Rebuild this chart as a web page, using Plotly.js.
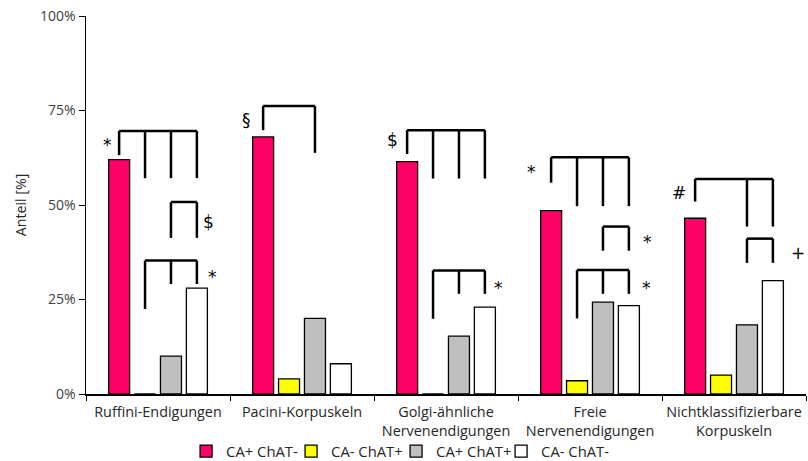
<!DOCTYPE html>
<html><head><meta charset="utf-8">
<script src="https://cdn.plot.ly/plotly-3.0.1.min.js"></script>
<style>html,body{margin:0;padding:0;background:#fff}#chart{width:808px;height:461px}</style>
</head><body><div id="chart"></div>
<script>
const categories = ["Ruffini-Endigungen","Pacini-Korpuskeln","Golgi-ähnliche<br>Nervenendigungen","Freie<br>Nervenendigungen","Nichtklassifizierbare<br>Korpuskeln"];
const seriesNames = ["CA+ ChAT-","CA- ChAT+","CA+ ChAT+","CA- ChAT-"];
const caPlusChatMinus = [62, 68, 61.5, 48.5, 46.5];
const caMinusChatPlus = [0, 4, 0, 3.5, 5];
const caPlusChatPlus = [10, 20, 15.3, 24.3, 18.3];
const caMinusChatMinus = [28, 8, 23, 23.4, 30];
const yTickVals = [0, 25, 50, 75, 100];
const yTickText = ["0%", "25%", "50%", "75%", "100%"];
const yTitle = "Anteil [%]";

// significance brackets: category, top level, legs as [slot, bottom level]
const brackets = [
  {cat:0, top:69.6, legs:[[0,63.2],[1,57.1],[2,57.1],[3,57.1]]},
  {cat:0, top:50.8, legs:[[2,41.3],[3,41.3]]},
  {cat:0, top:35.3, legs:[[1,22.5],[2,29.1],[3,29.1]]},
  {cat:1, top:76.2, legs:[[0,69.8],[2,63.8]]},
  {cat:2, top:69.8, legs:[[0,63.5],[1,57],[2,57],[3,57]]},
  {cat:2, top:32.7, legs:[[1,19.9],[2,26.5],[3,26.5]]},
  {cat:3, top:62.6, legs:[[0,55.9],[1,49.7],[2,49.7],[3,49.7]]},
  {cat:3, top:44.3, legs:[[2,37.9],[3,37.9]]},
  {cat:3, top:32.8, legs:[[1,20.0],[2,26.5],[3,26.5]]},
  {cat:4, top:56.9, legs:[[0,50.9],[2,44.3],[3,44.3]]},
  {cat:4, top:41.1, legs:[[2,34.7],[3,34.7]]}
];
// significance symbols: category, offset from category centre, level, text
const symbols = [
  {cat:0, dx:-0.35, y:66, text:"*"},
  {cat:0, dx:0.35, y:45.5, text:"$"},
  {cat:0, dx:0.375, y:31, text:"*"},
  {cat:1, dx:-0.382, y:72.5, text:"§"},
  {cat:2, dx:-0.375, y:67.2, text:"$"},
  {cat:2, dx:0.368, y:28, text:"*"},
  {cat:3, dx:-0.403, y:58.7, text:"*"},
  {cat:3, dx:0.396, y:40.2, text:"*"},
  {cat:3, dx:0.389, y:28, text:"*"},
  {cat:4, dx:-0.382, y:53.2, text:"#"},
  {cat:4, dx:0.444, y:37.3, text:"+"}
];

const colors = ["#FF0066", "#FFFF00", "#BFBFBF", "#FFFFFF"];
const values = [caPlusChatMinus, caMinusChatPlus, caPlusChatPlus, caMinusChatMinus];
const FONT = "'Open Sans', sans-serif";

const traces = values.map((v, i) => ({
  type: "bar", x: categories, y: v, name: seriesNames[i],
  marker: {color: colors[i], line: {color: "#000", width: 1.3}},
  hoverinfo: "skip"
}));

const bargap = 0.28;
const slotW = (1 - bargap) / 4;
const slotX = s => (s - 1.5) * slotW;

const shapes = [];
brackets.forEach(b => {
  const xs = b.legs.map(l => b.cat + slotX(l[0]));
  shapes.push({type:"line", xref:"x2", yref:"y", x0:xs[0], x1:xs[xs.length-1], y0:b.top, y1:b.top, line:{color:"#000", width:2.5}});
  b.legs.forEach((l, k) => {
    shapes.push({type:"line", xref:"x2", yref:"y", x0:xs[k], x1:xs[k], y0:b.top, y1:l[1], line:{color:"#000", width:2.5}});
  });
});
const annotations = symbols.map(s => ({
  xref:"x2", yref:"y", x:s.cat + s.dx, y:s.y, text:s.text, showarrow:false,
  font:{family:"'DejaVu Sans', sans-serif", size:17, color:"#000"}
}));

const layout = {
  width: 808, height: 461,
  margin: {l:86, r:2, t:16, b:67, autoexpand:false},
  paper_bgcolor: "#fff", plot_bgcolor: "#fff",
  barmode: "group", bargap: bargap, bargroupgap: 0.19,
  font: {family: FONT, size: 14, color: "#262626"},
  showlegend: true,
  legend: {orientation:"h", x:0.139, xanchor:"left", y:-0.152, yanchor:"middle",
           bgcolor:"rgba(0,0,0,0)",
           font:{family:FONT, size:14.8, color:"#262626"}, entrywidth:60, traceorder:"normal"},
  xaxis: {type:"category", tickson:"boundaries", ticks:"outside", ticklen:5, tickcolor:"#000",
          showline:true, linecolor:"#000", linewidth:1.5, showgrid:false, zeroline:false,
          ticklabelstandoff:4, tickangle:0,
          tickfont:{family:FONT, size:14.4, color:"#262626"}, range:[-0.5, 4.5], fixedrange:true},
  xaxis2: {overlaying:"x", range:[-0.5, 4.5], visible:false, fixedrange:true},
  yaxis: {range:[0, 100], tickvals:yTickVals, ticktext:yTickText, ticks:"outside", ticklen:6, tickcolor:"#000",
          showline:true, linecolor:"#000", linewidth:1.5, showgrid:false, zeroline:false,
          tickfont:{family:FONT, size:14, color:"#404040"},
          title:{text:yTitle, font:{family:FONT, size:14.2, color:"#262626"}, standoff:10}},
  shapes: shapes,
  annotations: annotations
};
// invisible helper trace: creates the overlay axis for brackets and pads the legend so the last label is not clipped
traces.push({type:"scatter", x:[0], y:[0], xaxis:"x2", yaxis:"y", mode:"markers",
             marker:{color:"rgba(0,0,0,0)", size:1, line:{width:0}}, name:" ", showlegend:true, hoverinfo:"skip"});
Plotly.newPlot("chart", traces, layout, {staticPlot:true});
</script></body></html>
